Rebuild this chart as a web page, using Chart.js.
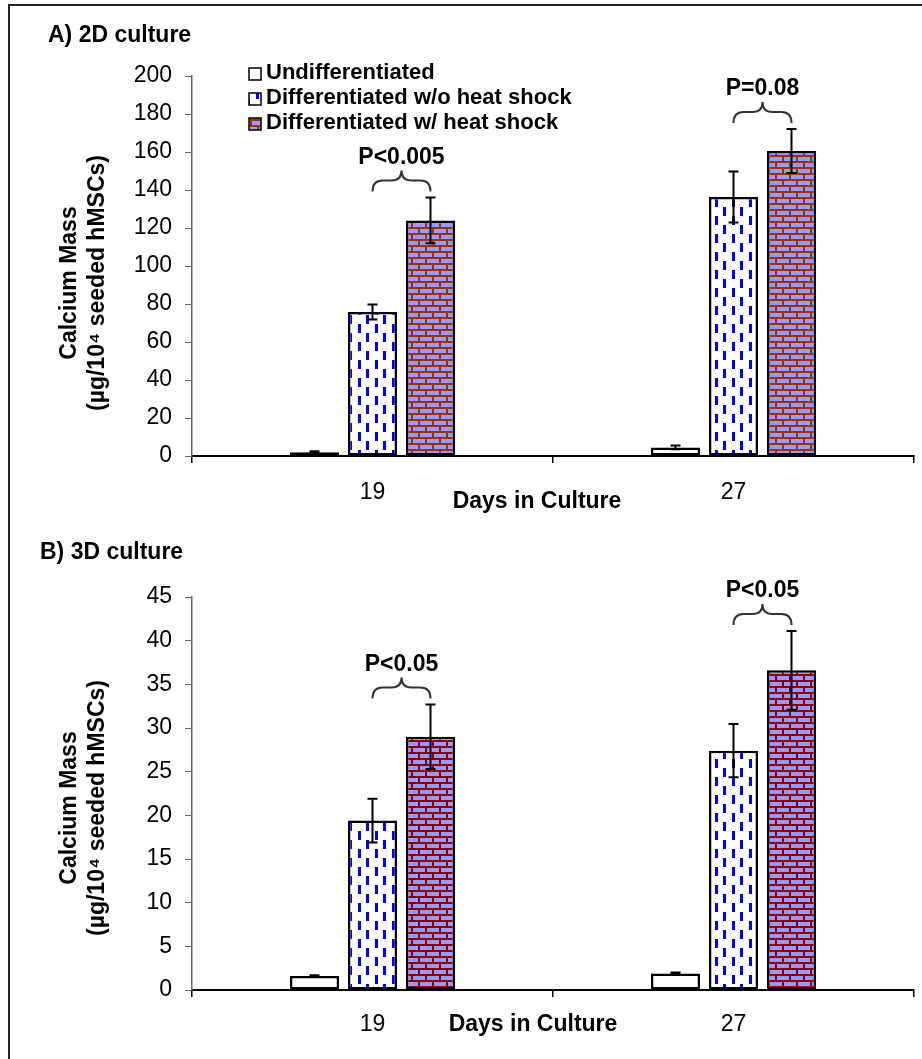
<!DOCTYPE html>
<html>
<head>
<meta charset="utf-8">
<title>Calcium Mass</title>
<script src="https://cdn.jsdelivr.net/npm/chart.js"></script>
<style>
    html, body { margin: 0; background: #fff; overflow: hidden; }
    #frame { position: absolute; left: 8px; top: 4px; width: 912px; height: 1055px; border-left: 2px solid #222; border-top: 2px solid #222; }
    canvas { position: absolute; left: 0; }
</style>
</head>
<body>
<div id="frame"></div>
<canvas id="chart2d" width="922" height="525" style="top:0"></canvas>
<canvas id="chart3d" width="922" height="534" style="top:525px"></canvas>
<script>
    var days = ['19', '27'];
    var seriesNames = ['Undifferentiated', 'Differentiated w/o heat shock', 'Differentiated w/ heat shock'];
    var yTitle = ['Calcium Mass', '(µg/10⁴ seeded hMSCs)'];
    var xTitle = 'Days in Culture';

    // A) 2D culture
    var undiff2D = [2, 4.5];
    var undiff2DErr = [0.5, 1];
    var noHeat2D = [75.8, 136.3];
    var noHeat2DErr = [4, 13.4];
    var heat2D = [124, 160.5];
    var heat2DErr = [12, 11.6];
    var pValues2D = ['P<0.005', 'P=0.08'];
    var yTicks2D = [0, 20, 40, 60, 80, 100, 120, 140, 160, 180, 200];

    // B) 3D culture
    var undiff3D = [1.6, 1.9];
    var undiff3DErr = [0.1, 0.1];
    var noHeat3D = [19.4, 27.4];
    var noHeat3DErr = [2.5, 3.05];
    var heat3D = [29.0, 36.6];
    var heat3DErr = [3.7, 4.5];
    var pValues3D = ['P<0.05', 'P<0.05'];
    var yTicks3D = [0, 5, 10, 15, 20, 25, 30, 35, 40, 45];

    var FONT = "'Liberation Sans', Arial, sans-serif";
    Chart.defaults.font.family = FONT;
    Chart.defaults.color = '#000';

    // fill patterns: blue dashes and bricks
    function makePatterns(ctx, mortar) {
        var d = document.createElement('canvas');
        d.width = 17; d.height = 18;
        var g = d.getContext('2d');
        g.fillStyle = '#fff'; g.fillRect(0, 0, 17, 18);
        g.fillStyle = '#0000ff';
        g.fillRect(1, 0, 3, 9);
        g.fillRect(9, 9, 3, 9);

        var b = document.createElement('canvas');
        b.width = 14; b.height = 12;
        var h = b.getContext('2d');
        h.fillStyle = mortar; h.fillRect(0, 0, 14, 12);
        h.fillStyle = '#9999ff';
        h.fillRect(0, 1, 12, 4);
        h.fillRect(7, 7, 7, 4);
        h.fillRect(0, 7, 5, 4);
        return { dash: ctx.createPattern(d, 'repeat'), brick: ctx.createPattern(b, 'repeat') };
    }

    var errorBars = {
        id: 'errorBars',
        afterDatasetsDraw: function (chart) {
            var ctx = chart.ctx, y = chart.scales.y;
            ctx.save();
            ctx.strokeStyle = '#000';
            ctx.lineWidth = 2;
            chart.data.datasets.forEach(function (ds, i) {
                chart.getDatasetMeta(i).data.forEach(function (bar, j) {
                    var top = y.getPixelForValue(ds.data[j] + ds.errors[j]);
                    var bot = y.getPixelForValue(ds.data[j] - ds.errors[j]);
                    ctx.beginPath();
                    ctx.moveTo(bar.x, top); ctx.lineTo(bar.x, bot);
                    ctx.moveTo(bar.x - 5, top); ctx.lineTo(bar.x + 5, top);
                    ctx.moveTo(bar.x - 5, bot); ctx.lineTo(bar.x + 5, bot);
                    ctx.stroke();
                });
            });
            ctx.restore();
        }
    };

    // titles, legend, braces with p-values
    var notes = {
        id: 'notes',
        afterDraw: function (chart, args, o) {
            var ctx = chart.ctx;
            ctx.save();
            ctx.fillStyle = '#000';
            ctx.textBaseline = 'middle';
            ctx.font = 'bold 23px ' + FONT;
            ctx.textAlign = 'left';
            ctx.fillText(o.title, o.titleX, o.titleY);
            ctx.textAlign = 'center';
            ctx.fillText(xTitle, o.xTitleX, o.xTitleY);
            yTitle.forEach(function (t, i) {
                ctx.save();
                ctx.translate(70 + 28 * i, o.yTitleY);
                ctx.rotate(-Math.PI / 2);
                ctx.fillText(t, 0, 0);
                ctx.restore();
            });

            if (o.legend) {
                ctx.font = 'bold 22px ' + FONT;
                ctx.textAlign = 'left';
                chart.data.datasets.forEach(function (ds, i) {
                    var yy = 74 + 25 * i;
                    ctx.fillStyle = ds.backgroundColor;
                    ctx.fillRect(249, yy - 6, 12, 12);
                    ctx.strokeStyle = '#000';
                    ctx.lineWidth = 1.5;
                    ctx.strokeRect(249, yy - 6, 12, 12);
                    ctx.fillStyle = '#000';
                    ctx.fillText(ds.label, 266, yy - 1);
                });
            }

            var y = chart.scales.y;
            var m1 = chart.getDatasetMeta(1), m2 = chart.getDatasetMeta(2);
            var ds2 = chart.data.datasets[2];
            ctx.strokeStyle = '#333';
            ctx.lineWidth = 2;
            ctx.font = 'bold 23px ' + FONT;
            ctx.textAlign = 'center';
            o.pValues.forEach(function (p, j) {
                var x1 = m1.data[j].x, x2 = m2.data[j].x, mid = (x1 + x2) / 2;
                var yb = y.getPixelForValue(ds2.data[j] + ds2.errors[j]) - 6;
                var h = 11, r = 10;
                ctx.beginPath();
                ctx.moveTo(x1, yb);
                ctx.quadraticCurveTo(x1, yb - h, x1 + r, yb - h);
                ctx.lineTo(mid - r, yb - h);
                ctx.quadraticCurveTo(mid, yb - h, mid, yb - h - 10);
                ctx.quadraticCurveTo(mid, yb - h, mid + r, yb - h);
                ctx.lineTo(x2 - r, yb - h);
                ctx.quadraticCurveTo(x2, yb - h, x2, yb);
                ctx.stroke();
                ctx.fillText(p, mid, yb - 34);
            });
            ctx.restore();
        }
    };

    function makeChart(id, o) {
        var ctx = document.getElementById(id).getContext('2d');
        var pat = makePatterns(ctx, o.mortar);
        return new Chart(ctx, {
            type: 'bar',
            data: {
                labels: days,
                datasets: [
                    { label: seriesNames[0], data: o.values[0], errors: o.errors[0], backgroundColor: '#fff' },
                    { label: seriesNames[1], data: o.values[1], errors: o.errors[1], backgroundColor: pat.dash },
                    { label: seriesNames[2], data: o.values[2], errors: o.errors[2], backgroundColor: pat.brick }
                ]
            },
            options: {
                responsive: false,
                animation: false,
                devicePixelRatio: 1,
                layout: { padding: { left: 10, right: 8, top: o.top, bottom: 0 } },
                datasets: {
                    bar: { borderColor: '#000', borderWidth: 2.5, borderSkipped: false, categoryPercentage: 0.482, barPercentage: 0.845 }
                },
                scales: {
                    x: {
                        grid: { drawOnChartArea: false, offset: true, tickLength: 7, color: '#000', lineWidth: 1.5 },
                        border: { color: '#000', width: 2 },
                        ticks: { color: '#000', font: { size: 23 }, padding: o.xPad },
                        afterFit: function (s) { s.height = o.xHeight; }
                    },
                    y: {
                        min: o.ticks[0],
                        max: o.ticks[o.ticks.length - 1],
                        afterBuildTicks: function (s) { s.ticks = o.ticks.map(function (v) { return { value: v }; }); },
                        grid: { drawOnChartArea: false, tickLength: 7, color: '#666' },
                        border: { color: '#666', width: 1.5 },
                        ticks: { color: '#000', font: { size: 23 }, padding: 13 },
                        afterFit: function (s) { s.width = 182; }
                    }
                },
                plugins: {
                    legend: { display: false },
                    tooltip: { enabled: false },
                    notes: o.notes
                }
            },
            plugins: [errorBars, notes]
        });
    }

    makeChart('chart2d', {
        values: [undiff2D, noHeat2D, heat2D],
        errors: [undiff2DErr, noHeat2DErr, heat2DErr],
        ticks: yTicks2D,
        mortar: '#993300',
        top: 76, xHeight: 69, xPad: 16,
        notes: { title: 'A) 2D culture', titleX: 48, titleY: 36, xTitleX: 537, xTitleY: 502, yTitleY: 283, legend: true, pValues: pValues2D }
    });

    makeChart('chart3d', {
        values: [undiff3D, noHeat3D, heat3D],
        errors: [undiff3DErr, noHeat3DErr, heat3DErr],
        ticks: yTicks3D,
        mortar: '#880000',
        top: 72, xHeight: 69, xPad: 14,
        notes: { title: 'B) 3D culture', titleX: 40, titleY: 28, xTitleX: 533, xTitleY: 500, yTitleY: 283, legend: false, pValues: pValues3D }
    });
</script>
</body>
</html>
